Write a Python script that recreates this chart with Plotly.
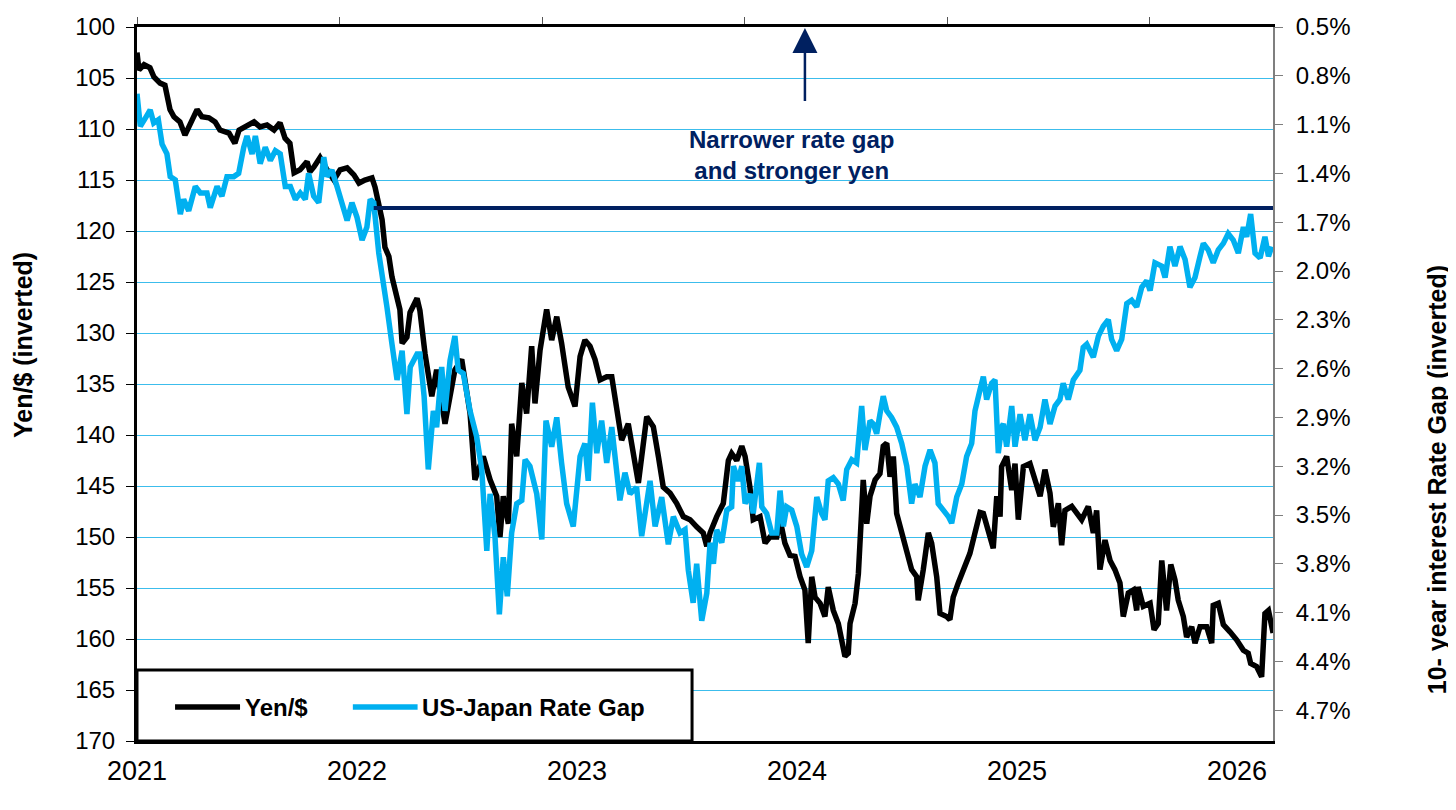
import plotly.graph_objects as go

# Yen per dollar (left axis, inverted), x in fractional years
yen_x = [2021.000, 2021.009, 2021.032, 2021.059, 2021.077, 2021.105, 2021.127, 2021.150, 2021.168, 2021.195,
         2021.218, 2021.241, 2021.273, 2021.295, 2021.327, 2021.355, 2021.377, 2021.418, 2021.445, 2021.464,
         2021.500, 2021.532, 2021.559, 2021.591, 2021.623, 2021.650, 2021.673, 2021.695, 2021.714, 2021.741,
         2021.773, 2021.786, 2021.805, 2021.832, 2021.864, 2021.895, 2021.923, 2021.955, 2021.986, 2022.009,
         2022.036, 2022.068, 2022.082, 2022.114, 2022.127, 2022.145, 2022.159, 2022.182, 2022.195, 2022.205,
         2022.227, 2022.241, 2022.273, 2022.286, 2022.309, 2022.340, 2022.362, 2022.400, 2022.445, 2022.476,
         2022.514, 2022.536, 2022.574, 2022.605, 2022.635, 2022.650, 2022.665, 2022.688, 2022.703, 2022.726,
         2022.749, 2022.771, 2022.794, 2022.809, 2022.832, 2022.862, 2022.885, 2022.908, 2022.930, 2022.960,
         2022.991, 2023.014, 2023.036, 2023.059, 2023.082, 2023.105, 2023.135, 2023.158, 2023.180, 2023.203,
         2023.233, 2023.256, 2023.279, 2023.317, 2023.347, 2023.370, 2023.392, 2023.423, 2023.453, 2023.483,
         2023.514, 2023.544, 2023.574, 2023.590, 2023.605, 2023.635, 2023.665, 2023.688, 2023.703, 2023.726,
         2023.749, 2023.764, 2023.786, 2023.801, 2023.832, 2023.855, 2023.877, 2023.908, 2023.923, 2023.945,
         2023.968, 2023.991, 2024.014, 2024.036, 2024.051, 2024.067, 2024.082, 2024.105, 2024.127, 2024.142,
         2024.165, 2024.188, 2024.203, 2024.218, 2024.233, 2024.241, 2024.264, 2024.279, 2024.294, 2024.301,
         2024.317, 2024.332, 2024.355, 2024.377, 2024.392, 2024.408, 2024.423, 2024.438, 2024.453, 2024.476,
         2024.499, 2024.521, 2024.544, 2024.551, 2024.574, 2024.597, 2024.612, 2024.635, 2024.650, 2024.680,
         2024.695, 2024.710, 2024.733, 2024.756, 2024.786, 2024.809, 2024.832, 2024.847, 2024.869, 2024.892,
         2024.908, 2024.923, 2024.930, 2024.953, 2024.976, 2024.991, 2025.006, 2025.029, 2025.059, 2025.089,
         2025.105, 2025.127, 2025.150, 2025.165, 2025.188, 2025.203, 2025.218, 2025.249, 2025.271, 2025.294,
         2025.324, 2025.347, 2025.362, 2025.377, 2025.400, 2025.423, 2025.445, 2025.468, 2025.483, 2025.506,
         2025.529, 2025.544, 2025.551, 2025.574, 2025.605, 2025.623, 2025.642, 2025.658, 2025.680, 2025.699,
         2025.718, 2025.733, 2025.756, 2025.771, 2025.794, 2025.809, 2025.832, 2025.862, 2025.885, 2025.892,
         2025.915, 2025.938, 2025.968, 2025.999, 2026.029, 2026.051, 2026.062, 2026.089, 2026.112, 2026.127,
         2026.143, 2026.164]
yen_vals = [102.5, 104.2, 103.7, 104.0, 104.9, 105.5, 105.7, 108.1, 108.8, 109.3,
            110.6, 109.6, 108.1, 108.8, 108.9, 109.3, 110.1, 110.4, 111.4, 110.1,
            109.6, 109.3, 109.8, 109.6, 110.1, 109.4, 110.9, 111.4, 114.3, 114.0,
            113.2, 114.2, 113.7, 112.8, 114.0, 115.0, 114.0, 113.8, 114.5, 115.3,
            115.0, 114.8, 115.7, 118.9, 121.6, 122.5, 124.5, 126.8, 127.7, 131.0,
            130.4, 128.0, 126.6, 127.8, 132.0, 136.2, 133.6, 138.9, 133.6, 132.6,
            137.9, 144.4, 142.1, 144.4, 146.0, 150.0, 146.0, 148.7, 138.9, 142.1,
            134.9, 137.9, 131.3, 136.9, 131.7, 127.7, 130.7, 128.4, 131.0, 135.3,
            137.2, 132.3, 130.7, 131.3, 132.6, 134.6, 134.3, 134.3, 137.5, 140.5,
            138.9, 142.1, 144.7, 138.2, 139.2, 142.1, 145.1, 145.7, 146.7, 148.0,
            148.3, 149.0, 149.6, 150.9, 149.6, 148.0, 146.7, 142.5, 141.8, 142.5,
            141.1, 142.1, 145.1, 148.3, 148.0, 150.6, 150.0, 150.0, 148.3, 150.6,
            151.8, 151.9, 153.9, 155.2, 160.4, 153.9, 155.9, 156.5, 157.8, 154.9,
            157.2, 158.5, 160.4, 161.7, 161.4, 158.5, 156.5, 153.6, 147.4, 144.4,
            148.7, 146.0, 144.4, 143.8, 141.1, 140.8, 144.1, 142.1, 147.7, 149.6,
            151.9, 153.2, 153.9, 156.2, 153.2, 149.6, 150.6, 153.9, 157.5, 157.8,
            158.1, 155.9, 154.5, 153.2, 151.6, 149.6, 147.6, 147.7, 149.6, 151.1,
            146.0, 148.0, 143.1, 142.1, 145.4, 142.8, 148.3, 143.1, 142.8, 144.7,
            146.0, 143.4, 145.7, 149.0, 146.7, 150.8, 147.4, 147.0, 147.7, 148.3,
            147.0, 149.6, 147.4, 153.2, 150.3, 152.3, 153.2, 154.5, 157.8, 155.5,
            155.2, 157.2, 154.9, 156.8, 156.5, 159.1, 158.5, 152.3, 157.2, 152.7,
            154.2, 156.2, 157.8, 159.8, 158.8, 160.4, 158.8, 158.8, 160.4, 156.7,
            156.5, 158.6, 159.3, 160.1, 161.1, 161.4, 162.4, 162.7, 163.7, 157.5,
            157.2, 159.4]

# US-Japan 10-year rate gap in % (right axis, inverted)
gap_x = [2021.000, 2021.015, 2021.038, 2021.060, 2021.076, 2021.097, 2021.114, 2021.136, 2021.151, 2021.174,
         2021.197, 2021.212, 2021.235, 2021.265, 2021.288, 2021.318, 2021.333, 2021.364, 2021.386, 2021.409,
         2021.440, 2021.462, 2021.485, 2021.500, 2021.523, 2021.538, 2021.560, 2021.583, 2021.606, 2021.629,
         2021.651, 2021.674, 2021.697, 2021.720, 2021.742, 2021.765, 2021.780, 2021.803, 2021.826, 2021.849,
         2021.864, 2021.886, 2021.909, 2021.932, 2021.955, 2021.977, 2022.000, 2022.023, 2022.045, 2022.060,
         2022.076, 2022.099, 2022.121, 2022.136, 2022.159, 2022.182, 2022.205, 2022.227, 2022.242, 2022.273,
         2022.286, 2022.305, 2022.324, 2022.347, 2022.362, 2022.385, 2022.400, 2022.423, 2022.445, 2022.460,
         2022.483, 2022.514, 2022.544, 2022.567, 2022.590, 2022.605, 2022.627, 2022.647, 2022.665, 2022.683,
         2022.703, 2022.726, 2022.749, 2022.764, 2022.786, 2022.817, 2022.840, 2022.859, 2022.885, 2022.908,
         2022.930, 2022.953, 2022.983, 2023.014, 2023.036, 2023.051, 2023.070, 2023.090, 2023.112, 2023.135,
         2023.158, 2023.180, 2023.195, 2023.218, 2023.241, 2023.271, 2023.294, 2023.332, 2023.355, 2023.385,
         2023.415, 2023.438, 2023.468, 2023.491, 2023.506, 2023.528, 2023.544, 2023.567, 2023.590, 2023.605,
         2023.620, 2023.635, 2023.658, 2023.681, 2023.703, 2023.711, 2023.733, 2023.749, 2023.764, 2023.786,
         2023.801, 2023.829, 2023.840, 2023.862, 2023.885, 2023.908, 2023.923, 2023.938, 2023.953, 2023.976,
         2023.999, 2024.021, 2024.044, 2024.067, 2024.090, 2024.112, 2024.127, 2024.142, 2024.165, 2024.188,
         2024.210, 2024.226, 2024.249, 2024.271, 2024.294, 2024.309, 2024.332, 2024.347, 2024.362, 2024.377,
         2024.392, 2024.408, 2024.430, 2024.453, 2024.476, 2024.499, 2024.521, 2024.536, 2024.559, 2024.582,
         2024.605, 2024.627, 2024.642, 2024.665, 2024.688, 2024.703, 2024.726, 2024.749, 2024.771, 2024.794,
         2024.809, 2024.832, 2024.847, 2024.862, 2024.885, 2024.900, 2024.915, 2024.930, 2024.938, 2024.953,
         2024.976, 2024.991, 2025.014, 2025.036, 2025.059, 2025.082, 2025.105, 2025.127, 2025.150, 2025.173,
         2025.195, 2025.210, 2025.233, 2025.256, 2025.286, 2025.301, 2025.317, 2025.347, 2025.370, 2025.392,
         2025.415, 2025.430, 2025.453, 2025.476, 2025.499, 2025.521, 2025.544, 2025.567, 2025.590, 2025.605,
         2025.627, 2025.658, 2025.673, 2025.695, 2025.718, 2025.741, 2025.764, 2025.786, 2025.809, 2025.832,
         2025.847, 2025.869, 2025.892, 2025.915, 2025.938, 2025.960, 2025.983, 2026.006, 2026.029, 2026.044,
         2026.062, 2026.082, 2026.105, 2026.127, 2026.143, 2026.158]
gap_vals = [0.91, 1.11, 1.06, 1.01, 1.09, 1.07, 1.22, 1.28, 1.42, 1.44,
            1.65, 1.56, 1.63, 1.48, 1.52, 1.52, 1.61, 1.48, 1.54, 1.42,
            1.42, 1.40, 1.24, 1.17, 1.28, 1.17, 1.34, 1.24, 1.32, 1.26,
            1.28, 1.48, 1.48, 1.56, 1.52, 1.56, 1.40, 1.54, 1.58, 1.30,
            1.42, 1.38, 1.48, 1.58, 1.69, 1.58, 1.67, 1.81, 1.73, 1.56,
            1.58, 1.89, 2.12, 2.22, 2.45, 2.67, 2.49, 2.88, 2.59, 2.51,
            2.51, 2.77, 3.22, 2.86, 2.96, 2.59, 2.86, 2.55, 2.40, 2.61,
            2.63, 2.86, 3.02, 3.22, 3.72, 3.37, 3.63, 4.11, 3.76, 4.00,
            3.61, 3.43, 3.41, 3.16, 3.20, 3.37, 3.65, 2.92, 3.08, 2.90,
            3.18, 3.43, 3.57, 3.14, 3.06, 3.29, 2.81, 3.12, 2.92, 3.18,
            2.96, 3.22, 3.41, 3.24, 3.37, 3.33, 3.63, 3.29, 3.57, 3.39,
            3.68, 3.51, 3.61, 3.59, 3.84, 4.04, 3.80, 4.15, 3.98, 3.67,
            3.80, 3.59, 3.67, 3.47, 3.45, 3.20, 3.29, 3.20, 3.43, 3.37,
            3.49, 3.18, 3.45, 3.49, 3.61, 3.61, 3.35, 3.57, 3.45, 3.47,
            3.57, 3.74, 3.82, 3.72, 3.39, 3.49, 3.53, 3.29, 3.27, 3.31,
            3.41, 3.22, 3.16, 3.18, 2.83, 3.10, 2.92, 2.94, 3.00, 2.88,
            2.77, 2.86, 2.90, 2.96, 3.06, 3.20, 3.43, 3.31, 3.39, 3.20,
            3.10, 3.18, 3.43, 3.47, 3.51, 3.55, 3.39, 3.31, 3.14, 3.06,
            2.86, 2.73, 2.65, 2.79, 2.69, 2.67, 3.12, 2.96, 2.94, 3.08,
            2.83, 3.08, 2.88, 3.04, 2.88, 3.04, 2.96, 2.79, 2.94, 2.83,
            2.79, 2.69, 2.79, 2.67, 2.61, 2.47, 2.45, 2.53, 2.40, 2.34,
            2.30, 2.42, 2.49, 2.42, 2.20, 2.18, 2.22, 2.10, 2.06, 2.12,
            1.95, 1.97, 2.04, 1.85, 1.97, 1.85, 1.93, 2.10, 2.04, 1.91,
            1.83, 1.87, 1.95, 1.87, 1.83, 1.77, 1.81, 1.89, 1.73, 1.79,
            1.65, 1.89, 1.92, 1.79, 1.91, 1.85]

year_ticks = [2021, 2022, 2023, 2024, 2025, 2026]
year_labels = ["2021", "2022", "2023", "2024", "2025", "2026"]
yen_ticks = [100, 105, 110, 115, 120, 125, 130, 135, 140, 145, 150, 155, 160, 165, 170]
gap_ticks = [0.5, 0.8, 1.1, 1.4, 1.7, 2.0, 2.3, 2.6, 2.9, 3.2, 3.5, 3.8, 4.1, 4.4, 4.7]
gap_labels = ["%.1f%%" % v for v in gap_ticks]

# level where the rate gap line narrows, and arrow from/to on the yen scale
gap_line_start, gap_line_level = 2022.076, 117.75
arrow_x, arrow_from, arrow_to = 2024.036, 107.4, 100.1

assert len(yen_x) == len(yen_vals), (len(yen_x), len(yen_vals))
assert len(gap_x) == len(gap_vals), (len(gap_x), len(gap_vals))

FONT = "Liberation Sans, Arial, sans-serif"
NAVY = "#002060"
LIGHT_BLUE = "#00b0f0"
GRID = "#3cbdec"
X_END = 2021 + 1136 / 220


def label(fig, x, y, text, size=24, color="black", angle=0, xanchor="center"):
    fig.add_annotation(x=x, y=y, xref="paper", yref="paper", showarrow=False, text=text,
                       textangle=angle, xanchor=xanchor, yanchor="middle", align="center",
                       font=dict(size=size, color=color))


fig = go.Figure()
fig.add_trace(go.Scatter(x=yen_x, y=yen_vals, mode="lines", name="Yen/$",
                         line=dict(color="black", width=5.5), showlegend=False))
fig.add_trace(go.Scatter(x=gap_x, y=gap_vals, mode="lines", name="US-Japan Rate Gap",
                         line=dict(color=LIGHT_BLUE, width=5.5), yaxis="y2", showlegend=False))
# empty trace so the top tick axis is drawn
fig.add_trace(go.Scatter(x=[], y=[], xaxis="x2", yaxis="y2", showlegend=False, hoverinfo="skip"))

# the page body adds 8px around the figure, so the figure is 8px smaller on each side
fig.update_layout(
    width=1448, height=802,
    margin=dict(l=129, r=183, t=19, b=69, autoexpand=False),
    paper_bgcolor="white", plot_bgcolor="white",
    font=dict(family=FONT, color="black", size=24),
    xaxis=dict(range=[2021, X_END], tickvals=year_ticks, ticktext=year_labels, automargin=False,
               showgrid=False, zeroline=False, showline=True, linecolor="black", linewidth=3,
               ticks="", ticklabelstandoff=4, tickfont=dict(size=27)),
    xaxis2=dict(overlaying="x", side="top", anchor="y", range=[0, 1136 / 202.5], tick0=0, dtick=1,
                showticklabels=False, ticks="outside", ticklen=7, tickcolor="#555555", tickwidth=1,
                automargin=False, showline=True, linecolor="black", linewidth=3,
                showgrid=False, zeroline=False),
    yaxis=dict(range=[170, 100], tickvals=yen_ticks, showgrid=True, gridcolor=GRID, gridwidth=1,
               zeroline=False, showline=True, linecolor="black", linewidth=3, automargin=False,
               ticks="outside", ticklen=8, tickcolor="black", tickwidth=1, ticklabelstandoff=6,
               tickfont=dict(size=24)),
    yaxis2=dict(overlaying="y", side="right", anchor="x", range=[0.5 + 714 / 48.8 * 0.3, 0.5],
                tickvals=gap_ticks, ticktext=gap_labels, showgrid=False, zeroline=False,
                showline=True, linecolor="#7f7f7f", linewidth=2, automargin=False,
                ticks="outside", ticklen=8, tickcolor="#7f7f7f", tickwidth=1, ticklabelstandoff=8,
                tickfont=dict(size=24)),
)

# horizontal reference line and arrow
fig.add_shape(type="line", xref="x", yref="y", x0=gap_line_start, x1=X_END,
              y0=gap_line_level, y1=gap_line_level, line=dict(color=NAVY, width=4))
fig.add_annotation(x=arrow_x, y=arrow_to, ax=arrow_x, ay=arrow_from, xref="x", yref="y",
                   axref="x", ayref="y", showarrow=True, arrowhead=2, arrowsize=2,
                   arrowwidth=2.5, arrowcolor=NAVY, text="")
label(fig, 0.576, 0.821, "<b>Narrower rate gap<br>and stronger yen</b>", color=NAVY)

# axis titles
label(fig, -0.101, 0.555, "<b>Yen/$ (inverted)</b>", size=25, angle=-90)
label(fig, 1.144, 0.366, "<b>10- year interest Rate Gap (inverted)</b>", size=25, angle=-90)

# legend box drawn in the lower left corner
fig.add_shape(type="rect", xref="paper", yref="paper", x0=0, x1=0.4886, y0=0, y1=0.0994,
              fillcolor="white", line=dict(color="black", width=3), layer="above")
fig.add_shape(type="line", xref="paper", yref="paper", x0=0.0335, x1=0.0907, y0=0.0476, y1=0.0476,
              line=dict(color="black", width=5.5), layer="above")
fig.add_shape(type="line", xref="paper", yref="paper", x0=0.190, x1=0.247, y0=0.0476, y1=0.0476,
              line=dict(color=LIGHT_BLUE, width=5.5), layer="above")
label(fig, 0.0933, 0.0476, "<b>Yen/$</b>", xanchor="left")
label(fig, 0.249, 0.0476, "<b>US-Japan Rate Gap</b>", xanchor="left")

fig.write_html("out.html")
